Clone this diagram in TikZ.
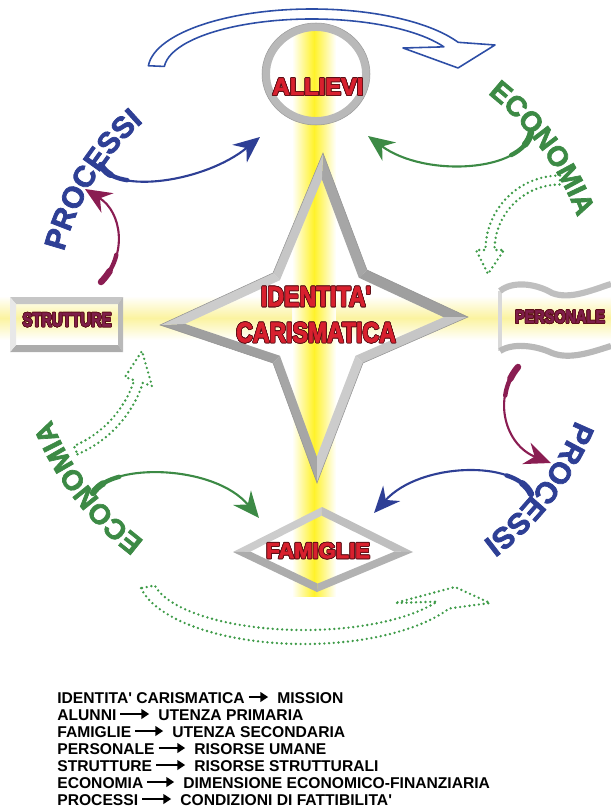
\documentclass[tikz,border=0pt]{standalone}
\usepackage{fontspec}
\setsansfont{Liberation Sans}
\newfontfamily\heavysf{Liberation Sans Bold}[FakeBold=2.5]
\usepackage{contour}
\usetikzlibrary{arrows.meta,positioning,calc,decorations.text}

\contourlength{0.45pt}

\definecolor{labred}{HTML}{D8202E}
\definecolor{labdark}{HTML}{5C0F16}
\definecolor{boxtext}{HTML}{7E1E4A}
\definecolor{procblue}{HTML}{2E3F95}
\definecolor{econgreen}{HTML}{3C8A45}
\definecolor{arrowpurple}{HTML}{8A1D52}
\definecolor{dotgreen}{HTML}{3E9B48}
\definecolor{loopblue}{HTML}{2D4EA6}
\definecolor{glow}{HTML}{FFF22A}
\definecolor{paleglow}{HTML}{FBF3A0}

\newcommand{\bigfont}{\heavysf\fontsize{16}{20.5}\selectfont}
\newcommand{\procfont}{\heavysf\fontsize{17}{17}\selectfont}
\newcommand{\econfont}{\heavysf\fontsize{16}{16}\selectfont}
\newcommand{\legfont}{\sffamily\bfseries\fontsize{8.9}{10}\selectfont}

% hollow band arrow along an elliptic arc:
% #1 style, #2 centre, #3/#4 radii, #5/#6 half widths, #7 start angle, #8 end angle, #9 head corners
\newcommand{\bandarrow}[9]{%
  \draw[#1, shift={#2}]
    (#7:{#3+#5} and {#4+#6}) arc[start angle=#7, end angle=#8, x radius={#3+#5}, y radius={#4+#6}]
    -- #9 -- (#8:{#3-#5} and {#4-#6})
    arc[start angle=#8, end angle=#7, x radius={#3-#5}, y radius={#4-#6}] -- cycle;}

\begin{document}
\begin{tikzpicture}[x=0.02cm, y=-0.02cm,
    swoosh/.style={line width=1.2pt, line cap=round,
      -{Stealth[length=15pt, width=13pt, inset=5pt]},
      postaction={draw, -, line width=2.5pt, dash pattern=on 18pt off 900pt},
      postaction={draw, -, line width=3.7pt, dash pattern=on 8pt off 900pt}},
    hollow/.style={draw=loopblue, line width=0.9pt, fill=white, line join=round},
    dotband/.style={draw=dotgreen, line width=1.5pt, line cap=round, line join=round, dash pattern=on 0pt off 2.7pt},
    tag/.style={inner sep=0pt},
    leg/.style={font=\legfont, inner sep=0pt, text height=1.7ex, text depth=0.1ex, anchor=west},
    legarrow/.style={line width=1.3pt, -{Triangle[length=4.5pt, width=5.5pt]}, shorten <=2pt, shorten >=5pt}]

  \useasboundingbox (0,0) rectangle (611,811);

  % glowing cross behind everything
  \shade[left color=white, right color=white, middle color=glow] (292,28) rectangle (336,596);
  \shade[top color=white, bottom color=white, middle color=paleglow] (0,296) rectangle (292,340);
  \shade[top color=white, bottom color=white, middle color=paleglow] (336,296) rectangle (611,340);

  % top loop arrow
  \bandarrow{hollow}{(312,70)}{156}{56}{8}{5}{184}{333}{(183,-25) -- (146,-2) -- (91,-22)}

  % dotted loop arrows
  \bandarrow{dotband}{(304,575)}{159}{62}{7}{7}{169}{29}{(186,28) -- (151,12) -- (91,28)}
  \bandarrow{dotband}{(560,250)}{70}{70}{4.5}{4.5}{270}{180}{(-84,0) -- (-72,24) -- (-56,0)}
  \bandarrow{dotband}{(32,347)}{112}{112}{4.5}{4.5}{67}{18}{(120,39) -- (110,4) -- (93,30)}

  % star: outer corners so1..so8, inner corners si1..si8
  \coordinate (so1) at (323,153);   \coordinate (si1) at (321.9,179.4);
  \coordinate (so2) at (367,270);   \coordinate (si2) at (358.8,277.7);
  \coordinate (so3) at (468,317);   \coordinate (si3) at (443.7,317.2);
  \coordinate (so4) at (363,363);   \coordinate (si4) at (355.5,355.8);
  \coordinate (so5) at (317,483);   \coordinate (si5) at (316.8,456.6);
  \coordinate (so6) at (273,363);   \coordinate (si6) at (279.9,355.8);
  \coordinate (so7) at (160,325);   \coordinate (si7) at (185,323.9);
  \coordinate (so8) at (273,273);   \coordinate (si8) at (279.9,280.2);
  \foreach \i/\j/\tone in {1/2/gray!70, 2/3/gray!75, 3/4/gray!45, 4/5/gray!40,
                           5/6/gray!70, 6/7/gray!75, 7/8/gray!40, 8/1/gray!45}
    \fill[\tone] (so\i) -- (so\j) -- (si\j) -- (si\i) -- cycle;
  \draw[gray!85, line width=0.3pt] (so1) -- (so2) -- (so3) -- (so4) -- (so5) -- (so6) -- (so7) -- (so8) -- cycle;

  \node[tag, font=\bigfont, text=labred, align=center, xscale=0.82] (ident) at (316,315)
    {\contour{labdark}{IDENTITA\textquotesingle}\\\contour{labdark}{CARISMATICA}};

  % ALLIEVI ring
  \draw[gray!55, line width=4.5pt] (316,74) ellipse[x radius=50, y radius=47];
  \draw[gray!80, line width=0.3pt] (316,74) ellipse[x radius=54, y radius=51];
  \node[tag, font=\heavysf\fontsize{13.5}{14}\selectfont, text=labred] (allievi) at (318,87)
    {\contour{labdark}{ALLIEVI}};

  % FAMIGLIE diamond
  \coordinate (do1) at (233,552);   \coordinate (di1) at (250.4,551.6);
  \coordinate (do2) at (322,507);   \coordinate (di2) at (321.6,515.6);
  \coordinate (do3) at (413,552);   \coordinate (di3) at (394.4,551.6);
  \coordinate (do4) at (317,592);   \coordinate (di4) at (317.6,583.6);
  \foreach \i/\j/\tone in {1/2/gray!40, 2/3/gray!50, 3/4/gray!60, 4/1/gray!65}
    \fill[\tone] (do\i) -- (do\j) -- (di\j) -- (di\i) -- cycle;
  \node[tag, font=\heavysf\fontsize{12.5}{13}\selectfont, text=labred] (famiglie) at (318,551)
    {\contour{labdark}{FAMIGLIE}};

  % STRUTTURE box
  \fill[gray!45] (10,297) -- (123,297) -- (118,304) -- (16,304) -- cycle;
  \fill[gray!55] (123,297) -- (123,352) -- (118,345) -- (118,304) -- cycle;
  \fill[gray!65] (123,352) -- (10,352) -- (16,345) -- (118,345) -- cycle;
  \fill[gray!18] (10,352) -- (10,297) -- (16,304) -- (16,345) -- cycle;
  \node[tag, font=\heavysf\fontsize{11}{12}\selectfont, text=boxtext, xscale=0.76] (strutture) at (67,320)
    {\contour{labdark}{STRUTTURE}};

  % PERSONALE banner
  \draw[gray!30, line width=2pt] (500,291) -- (500,351);
  \draw[gray!50, line width=3.5pt] (500,291) .. controls (512,281) and (535,283) .. (552,293)
    .. controls (570,300) and (592,290) .. (611,284);
  \draw[gray!55, line width=3.5pt] (500,351) .. controls (512,343) and (535,345) .. (552,353)
    .. controls (570,360) and (592,352) .. (611,346);
  \node[tag, font=\heavysf\fontsize{10.4}{11}\selectfont, text=boxtext, xscale=0.79] (personale) at (560,317)
    {\contour{labdark}{PERSONALE}};

  % words around the ring
  \path[decorate, decoration={text along path, text={|\procfont|PROCESSI}, text align=center, text color=procblue}]
    (313,315) ++(180:257) arc[start angle=180, end angle=243, radius=257];
  \path[decorate, decoration={text along path, text={|\econfont|ECONOMIA}, text align=center, text color=econgreen}]
    (313,315) ++(290:282) arc[start angle=290, end angle=358, radius=282];
  \path[decorate, decoration={text along path, text={|\econfont|ECONOMIA}, text align=center, text color=econgreen}]
    (313,315) ++(110:282) arc[start angle=110, end angle=175, radius=282];
  \path[decorate, decoration={text along path, text={|\procfont|PROCESSI}, text align=center, text color=procblue}]
    (313,315) ++(5:283) arc[start angle=5, end angle=70, radius=283];

  % swoosh arrows
  \draw[swoosh, procblue] (101,165) .. controls (115,195) and (205,182) .. (260,137);
  \draw[swoosh, econgreen] (531,132) .. controls (524,172) and (425,178) .. (368,136);
  \draw[swoosh, arrowpurple] (101,282) .. controls (128,255) and (122,212) .. (85,189);
  \draw[swoosh, arrowpurple] (518,367) .. controls (492,398) and (505,445) .. (551,463);
  \draw[swoosh, econgreen] (93,493) .. controls (112,462) and (215,465) .. (259,518);
  \draw[swoosh, procblue] (531,494) .. controls (516,460) and (420,462) .. (374,513);

  % legend
  \foreach \n/\y/\xr/\lt/\rt in {
      1/697/277/{IDENTITA\textquotesingle\ CARISMATICA}/{MISSION},
      2/714/158/{ALUNNI}/{UTENZA PRIMARIA},
      3/731/172/{FAMIGLIE}/{UTENZA SECONDARIA},
      4/748/194/{PERSONALE}/{RISORSE UMANE},
      5/765/194/{STRUTTURE}/{RISORSE STRUTTURALI},
      6/782/183/{ECONOMIA}/{DIMENSIONE ECONOMICO-FINANZIARIA},
      7/799/180/{PROCESSI}/{CONDIZIONI DI FATTIBILITA\textquotesingle}} {
    \node[leg] (l\n) at (57,\y) {\lt};
    \node[leg] (r\n) at (\xr,\y) {\rt};
    \draw[legarrow] (l\n) -- (r\n);
  }
\end{tikzpicture}
\end{document}
